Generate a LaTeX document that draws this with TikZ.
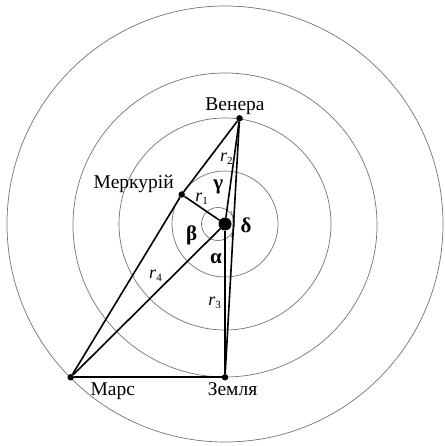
\documentclass[tikz,border=0pt]{standalone}
\usepackage{fontspec}
\setmainfont{Liberation Serif}
\begin{document}
\begin{tikzpicture}[x=1pt,y=1pt,
  orbit/.style={draw=black!55,line width=0.7pt},
  link/.style={draw=black,line width=1.6pt},
  planet/.style={circle,fill=black,inner sep=0pt,minimum size=6.5pt},
  lbl/.style={font=\fontsize{19.5}{20}\selectfont,anchor=base,inner sep=0pt},
  ang/.style={font=\fontsize{21}{21}\selectfont\bfseries,inner sep=0pt},
  rad/.style={font=\fontsize{18}{18}\selectfont,inner sep=0pt}]
\useasboundingbox (0,0) rectangle (444,446);
\coordinate (C) at (225,222);
\coordinate (A) at (218,222);
% orbits
\draw[orbit] (C) circle[radius=53];
\draw[orbit] (C) circle[radius=106];
\draw[orbit] (225,221) circle[radius=152];
\draw[orbit] (C) circle[radius=218];
% angle circle
\draw[orbit] (A) circle[radius=16.5];
\draw[orbit] (231.3,234.7) .. controls (233.8,228) and (233.8,216) .. (231.3,208.7);
% bodies
\node[circle,fill=black,inner sep=0pt,minimum size=13pt] (S) at (225,222) {};
\node[planet] (V) at (239.5,327.7) {};
\node[planet] (M) at (181.7,251.5) {};
\node[planet] (R) at (70.7,68.7) {};
\node[planet] (E) at (225,68.7) {};
% connectors
\draw[link] (V) -- (M);
\draw[link] (M) -- (R);
\draw[link] (R) -- (E);
\draw[link] (V) -- (E);
\draw[link] (V) -- (S);
\draw[link] (S) -- (E);
\draw[link] (S) -- (M);
\draw[link] (S) -- (R);
% names
\node[lbl] (tV) at (235,335) {Венера};
\node[lbl] (tM) at (133.7,257.7) {Меркурій};
\node[lbl] (tR) at (112.8,50) {Марс};
\node[lbl] (tE) at (232.5,50) {Земля};
% angles
\node[ang] (g) at (218.3,259.3) {γ};
\node[ang] (b) at (191.7,211) {β};
\node[ang] (a) at (216,187.7) {α};
\node[ang] (d) at (246,221) {δ};
% radii
\node[rad] (r1) at (201.7,247) {\textit{r}\raisebox{-3pt}{\fontsize{11}{11}\selectfont 1}};
\node[rad] (r2) at (226.3,287) {\textit{r}\raisebox{-3pt}{\fontsize{11}{11}\selectfont 2}};
\node[rad] (r3) at (214.7,143.5) {\textit{r}\raisebox{-3pt}{\fontsize{11}{11}\selectfont 3}};
\node[rad] (r4) at (155.5,170.5) {\textit{r}\raisebox{-3pt}{\fontsize{11}{11}\selectfont 4}};
\end{tikzpicture}
\end{document}
